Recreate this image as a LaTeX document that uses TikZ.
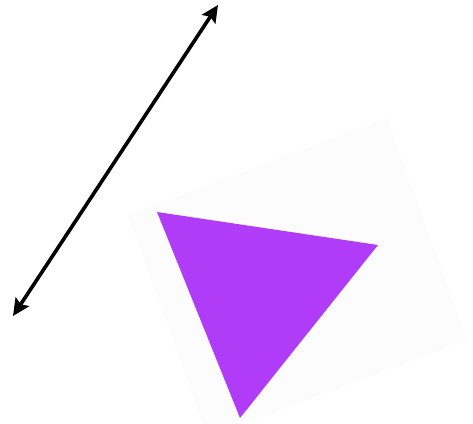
\documentclass[tikz,border=0pt]{standalone}
\usepackage{tikz}
\usetikzlibrary{arrows.meta}
\definecolor{violetfill}{RGB}{176,60,248}
\definecolor{paperbg}{RGB}{252,252,252}

\begin{document}
\begin{tikzpicture}[
  x=1pt, y=-1pt,
  dblarrow/.style={{Stealth[length=17pt,width=16pt,inset=3pt]}-{Stealth[length=17pt,width=16pt,inset=3pt]}, line width=3.6pt, black},
  shade/.style={fill=paperbg, draw=none},
  tri/.style={fill=violetfill, draw=none}
]
\useasboundingbox (0,0) rectangle (473,423);
\clip (0,0) rectangle (473,423);

%% Faint rotated backdrop
\coordinate (bgA) at (128,215);
\coordinate (bgB) at (387,118);
\coordinate (bgC) at (467,340);
\coordinate (bgD) at (208,437);
\fill[shade] (bgA) -- (bgB) -- (bgC) -- (bgD) -- cycle;

%% Triangle
\coordinate (tA) at (157,212);
\coordinate (tB) at (378,245);
\coordinate (tC) at (240,418);
\fill[tri] (tA) -- (tB) -- (tC) -- cycle;

%% Double arrow
\coordinate (lo) at (13,316);
\coordinate (hi) at (218,5);
\draw[dblarrow] (lo) -- (hi);
\end{tikzpicture}
\end{document}
